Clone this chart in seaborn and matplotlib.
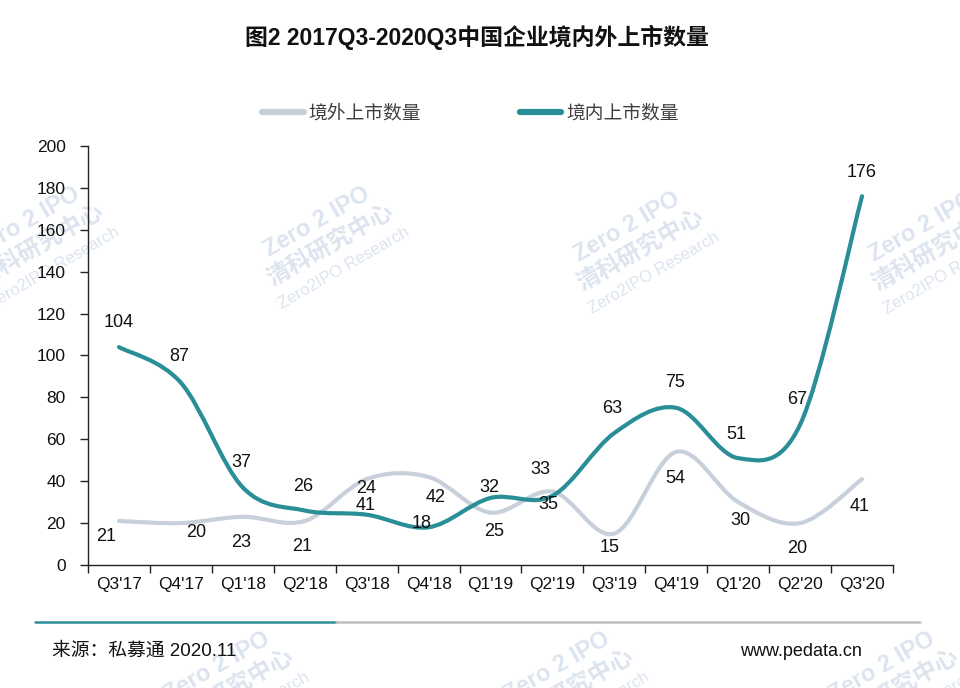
import numpy as np
import matplotlib.pyplot as plt
import seaborn as sns
from matplotlib.path import Path
from matplotlib.patches import PathPatch
from matplotlib.lines import Line2D

# Quarterly listing counts, Q3'17 - Q3'20
quarters = ["Q3'17", "Q4'17", "Q1'18", "Q2'18", "Q3'18", "Q4'18", "Q1'19",
            "Q2'19", "Q3'19", "Q4'19", "Q1'20", "Q2'20", "Q3'20"]
overseas = [21, 20, 23, 21, 41, 42, 25, 35, 15, 54, 30, 20, 41]
domestic = [104, 87, 37, 26, 24, 18, 32, 33, 63, 75, 51, 67, 176]

# label placement (pixel offsets from each point), like the excel label positions
dom_offsets = [(0, 25), (-2, 26), (-2, 25), (-2, 24), (-1, 26), (-7, 4), (-1, 10),
               (-12, 26), (-2, 25), (-1, 25), (-2, 24), (-3, 25), (0, 24)]
ovs_offsets = [(-13, -16), (15, -9), (-2, -26), (-3, -26), (-1, -26), (7, -21), (4, -19),
               (-4, -13), (-5, -14), (-1, -27), (2, -18), (-3, -25), (-2, -27)]

teal = "#2A8E98"
grey = "#C8D0DB"

sns.set_theme(style="ticks")
plt.rcParams['font.family'] = ['Liberation Sans', 'Noto Sans CJK SC', 'DejaVu Sans']
plt.rcParams['axes.unicode_minus'] = False


def smooth_path(xs, ys):
    # excel-style smoothed line: catmull-rom segments as cubic beziers
    pts = np.column_stack([xs, ys]).astype(float)
    padded = np.vstack([pts[0], pts, pts[-1]])
    verts = [pts[0]]
    codes = [Path.MOVETO]
    for i in range(len(pts) - 1):
        p0, p1, p2, p3 = padded[i], padded[i + 1], padded[i + 2], padded[i + 3]
        verts += [p1 + (p2 - p0) / 6, p2 - (p3 - p1) / 6, p2]
        codes += [Path.CURVE4] * 3
    return Path(verts, codes)


fig = plt.figure(figsize=(9.6, 6.88), dpi=100, facecolor="white")

# faint watermarks
marks = [(40, 245), (330, 245), (640, 250), (935, 250), (230, 690), (570, 690), (895, 690)]
wm_lines = [("Zero 2 IPO", 17, "bold"), ("清科研究中心", 17, "bold"), ("Zero2IPO Research", 12, "normal")]
for cx, cy in marks:
    for k, (txt, size, weight) in enumerate(wm_lines):
        d = (k - 1) * 27
        px = cx + d * 0.5
        py = (688 - cy) - d * 0.866
        fig.text(px / 960, py / 688, txt, fontsize=size, fontweight=weight,
                 color="#DCE4EF", rotation=30, ha="center", va="center",
                 rotation_mode="anchor", zorder=-1)

ax = fig.add_axes([0.0917, 0.1788, 0.8385, 0.609])
ax.patch.set_alpha(0)

x = np.arange(len(quarters))
ax.add_patch(PathPatch(smooth_path(x, overseas), facecolor="none", edgecolor=grey,
                       lw=3.0, capstyle="round", zorder=2))
ax.add_patch(PathPatch(smooth_path(x, domestic), facecolor="none", edgecolor=teal,
                       lw=3.0, capstyle="round", zorder=3))

for i in x:
    ax.annotate(f"{domestic[i]}", (i, domestic[i]), xytext=dom_offsets[i],
                textcoords="offset pixels", ha="center", va="center",
                fontsize=13, color="#111111", zorder=5)
    ax.annotate(f"{overseas[i]}", (i, overseas[i]), xytext=ovs_offsets[i],
                textcoords="offset pixels", ha="center", va="center",
                fontsize=13, color="#111111", zorder=5)

ax.set_xlim(-0.5, len(quarters) - 0.5)
ax.set_ylim(0, 200)
ax.set_yticks(range(0, 201, 20))
ax.set_xticks(x)
ax.set_xticklabels(quarters)
ax.set_xticks(np.arange(-0.5, len(quarters), 1), minor=True)
ax.tick_params(axis="x", which="major", length=0, pad=9, labelsize=12.5, colors="#111111")
ax.tick_params(axis="x", which="minor", length=6, width=1, direction="out", color="#222222")
ax.tick_params(axis="y", length=6, width=1, direction="out", pad=10, labelsize=12.5,
               colors="#222222", labelcolor="#111111")
for s in ["left", "bottom"]:
    ax.spines[s].set_color("#222222")
    ax.spines[s].set_linewidth(1)
sns.despine(ax=ax, top=True, right=True)
ax.grid(False)
ax.set_xlabel("")
ax.set_ylabel("")

# legend
handles = [Line2D([], [], color=grey, lw=4.5), Line2D([], [], color=teal, lw=4.5)]
fig.legend(handles, ["境外上市数量", "境内上市数量"], loc="center", ncol=2,
           bbox_to_anchor=(0.49, 1 - 113 / 688), frameon=False,
           prop={"family": ["Noto Sans CJK SC"], "size": 13.5}, labelcolor="#404040",
           handlelength=2.2, handletextpad=0.25, columnspacing=5.3)

fig.text(0.497, 1 - 37 / 688, "图2 2017Q3-2020Q3中国企业境内外上市数量", ha="center", va="center",
         fontsize=16.5, fontweight="bold", color="#111111")

# footer rule and notes
fig.add_artist(Line2D([35 / 960, 336 / 960], [1 - 622 / 688] * 2, color=teal, lw=1.8))
fig.add_artist(Line2D([336 / 960, 920 / 960], [1 - 622 / 688] * 2, color="#BFBFBF", lw=1.8))
fig.text(52 / 960, 1 - 651 / 688, "来源：私募通 2020.11", ha="left", va="center",
         fontsize=13.5, color="#111111")
fig.text(862 / 960, 1 - 651 / 688, "www.pedata.cn", ha="right", va="center",
         fontsize=13, color="#111111")

fig.savefig("out.png", dpi=100, facecolor="white")
